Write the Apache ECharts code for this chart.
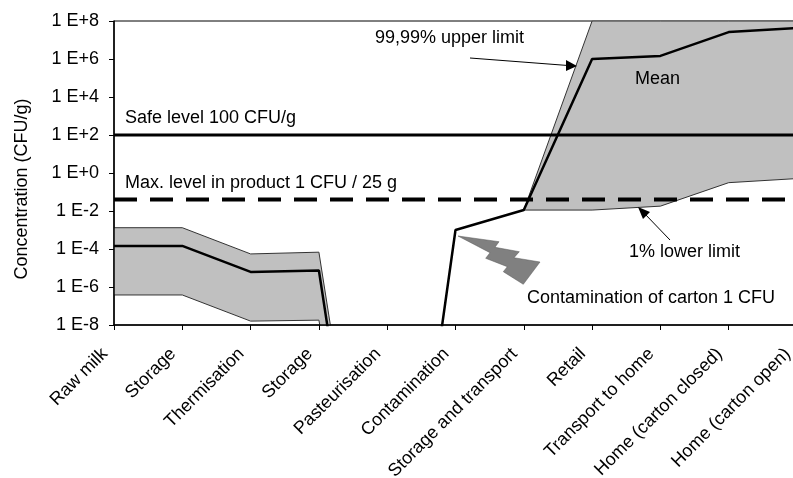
<!DOCTYPE html>
<html>
<head>
<meta charset="utf-8">
<style>
  html, body { margin: 0; padding: 0; background: #fff; overflow: hidden; }
  #main { width: 793px; height: 478px; }
</style>
<script src="https://cdn.jsdelivr.net/npm/echarts@6/dist/echarts.min.js"></script>
</head>
<body>
<div id="main"></div>
<script>
  var categories = ['Raw milk', 'Storage', 'Thermisation', 'Storage', 'Pasteurisation', 'Contamination',
    'Storage and transport', 'Retail', 'Transport to home', 'Home (carton closed)', 'Home (carton open)'];
  var yTickLabels = ['1 E-8', '1 E-6', '1 E-4', '1 E-2', '1 E+0', '1 E+2', '1 E+4', '1 E+6', '1 E+8'];

  //values in CFU/g
  var upperLimit = [1.32e-3, 1.32e-3, 5.5e-5, 6.8e-5, 1e-27, null, 1.12e-2, 1e8, 1e8, 1e8, 1e8];
  var meanLevel = [1.45e-4, 1.45e-4, 6.2e-6, 7.4e-6, 2.5e-29, 1e-3, 1.12e-2, 1e6, 1.45e6, 2.6e7, 4.3e7];
  var lowerLimit = [3.8e-7, 3.8e-7, 1.6e-8, 1.8e-8, 1e-28, null, 1.12e-2, 1.12e-2, 1.8e-2, 0.31, 0.51];
  var safeLevel = [100, 100, 100, 100, 100, 100, 100, 100, 100, 100, 100];
  var maxLevel = [0.04, 0.04, 0.04, 0.04, 0.04, 0.04, 0.04, 0.04, 0.04, 0.04, 0.04];
  //first and last category of each grey band
  var bandRanges = [[0, 4], [6, 10]];

  var fontName = '"Liberation Sans", Arial, sans-serif';

  //labels on the plot
  function note(text, x, y) {
    return {
      type: 'text',
      z: 10,
      style: { text: text, x: x, y: y, fill: '#000', font: '18px ' + fontName, textVerticalAlign: 'middle' }
    };
  }
  function arrowLine(x1, y1, x2, y2) {
    return {
      type: 'line',
      z: 10,
      shape: { x1: x1, y1: y1, x2: x2, y2: y2 },
      style: { stroke: '#000', lineWidth: 1 }
    };
  }
  function arrowHead(points) {
    return {
      type: 'polygon',
      z: 10,
      shape: { points: points },
      style: { fill: '#000' }
    };
  }

  //grey polygon between the two limits
  function renderBand(params, api) {
    var first = api.value(0);
    var last = api.value(1);
    var points = [];
    for (var i = first; i <= last; i++) {
      points.push(api.coord([i, upperLimit[i]]));
    }
    for (var j = last; j >= first; j--) {
      points.push(api.coord([j, lowerLimit[j]]));
    }
    return {
      type: 'polygon',
      shape: { points: points },
      style: { fill: '#c0c0c0' }
    };
  }

  var myChart = echarts.init(document.getElementById('main'));

  var option = {
    animation: false,
    textStyle: { fontFamily: fontName },
    grid: {
      left: 114, top: 21, width: 683, height: 304,
      outerBoundsMode: 'none',
      show: true, borderColor: '#000', borderWidth: 1, backgroundColor: 'transparent'
    },
    xAxis: {
      type: 'category',
      data: categories,
      boundaryGap: false,
      z: 5,
      axisLine: { lineStyle: { color: '#000', width: 1.5 } },
      axisTick: { length: 5, alignWithLabel: true, lineStyle: { color: '#000' } },
      axisLabel: {
        interval: 0, rotate: 45, margin: 17, padding: [0, 13, 0, 0],
        color: '#000', fontSize: 18, fontFamily: fontName, hideOverlap: false
      }
    },
    yAxis: {
      type: 'log',
      logBase: 100,
      min: 1e-8,
      max: 1e8,
      z: 5,
      splitLine: { show: false },
      minorTick: { show: false },
      axisLine: { show: true, lineStyle: { color: '#000', width: 1.5 } },
      axisTick: { show: true, length: 5, lineStyle: { color: '#000' } },
      axisLabel: {
        color: '#000',
        fontSize: 18,
        fontFamily: fontName,
        margin: 15,
        formatter: function (value) {
          return yTickLabels[Math.round((Math.log10(value) + 8) / 2)];
        }
      }
    },
    series: [
      {
        name: 'Band',
        type: 'custom',
        renderItem: renderBand,
        clip: true,
        data: bandRanges,
        encode: { x: -1, y: -1 },
        z: 1
      },
      {
        name: '99,99% upper limit',
        type: 'line',
        data: upperLimit,
        symbol: 'none',
        z: 2,
        lineStyle: { color: '#333', width: 1 }
      },
      {
        name: '1% lower limit',
        type: 'line',
        data: lowerLimit,
        symbol: 'none',
        z: 2,
        lineStyle: { color: '#333', width: 1 }
      },
      {
        name: 'Mean',
        type: 'line',
        data: meanLevel,
        symbol: 'none',
        z: 4,
        lineStyle: { color: '#000', width: 2.5 }
      },
      {
        name: 'Safe level',
        type: 'line',
        data: safeLevel,
        symbol: 'none',
        z: 4,
        lineStyle: { color: '#000', width: 3 }
      },
      {
        name: 'Max. level',
        type: 'line',
        data: maxLevel,
        symbol: 'none',
        z: 4,
        lineStyle: { color: '#000', width: 4, type: [23, 13] }
      }
    ],
    graphic: [
      {
        type: 'text',
        x: 22,
        y: 189,
        rotation: Math.PI / 2,
        style: { text: 'Concentration (CFU/g)', fill: '#000', font: '18px ' + fontName, textAlign: 'center', textVerticalAlign: 'middle' }
      },
      note('Safe level 100 CFU/g', 125, 118),
      note('Max. level in product 1 CFU / 25 g', 125, 183),
      note('99,99% upper limit', 375, 38),
      note('Mean', 635, 79),
      note('1% lower limit', 629, 252),
      note('Contamination of carton 1 CFU', 527, 298),
      arrowLine(470, 58, 568, 65.5),
      arrowHead([[577, 66], [566, 60], [566, 71]]),
      arrowLine(670, 240, 644, 213),
      arrowHead([[638, 207], [650, 212], [643, 219]]),
      {
        //lightning mark
        type: 'polygon',
        z: 10,
        shape: {
          points: [[458, 236], [499, 241.7], [495, 247.3], [519.3, 251.7], [514, 257.7], [540, 262],
            [523.3, 284.3], [503.3, 271.7], [507.3, 266.7], [485.7, 258.3], [490, 252.7]]
        },
        style: { fill: '#808080', stroke: '#555', lineWidth: 0.5 }
      }
    ]
  };

  myChart.setOption(option);
</script>
</body>
</html>
